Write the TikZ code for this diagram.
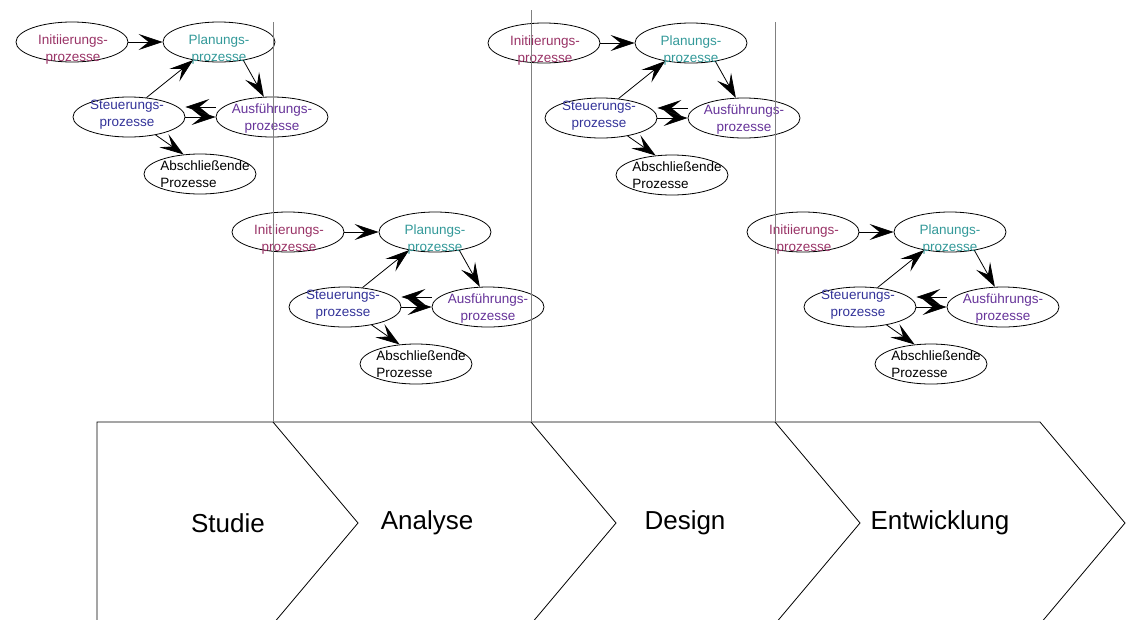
\documentclass[tikz,border=0pt]{standalone}
\usepackage{fontspec}
\setmainfont{Liberation Sans}
\usetikzlibrary{arrows.meta,shapes.geometric}
\definecolor{iniCol}{HTML}{993366}
\definecolor{planCol}{HTML}{339999}
\definecolor{steuCol}{HTML}{333399}
\definecolor{ausfCol}{HTML}{663399}
\definecolor{divCol}{HTML}{808080}
\tikzset{
  proc/.style={ellipse, draw, line width=0.8pt, minimum width=112pt, minimum height=40pt, inner sep=0pt},
  ptext/.style={align=center, font=\fontsize{13.5}{17}\selectfont, inner sep=0pt},
  flow/.style={line width=0.8pt, -{Stealth[length=24pt,width=16pt,inset=10pt]}},
  phase/.style={font=\fontsize{26}{30}\selectfont},
  divider/.style={divCol, line width=1pt}
}
\begin{document}
\begin{tikzpicture}[x=1pt,y=-1pt]
\useasboundingbox (0,0) rectangle (1128,619);
\clip (0,0) rectangle (1128,619);
% phases
\draw[line width=0.8pt] (97,640) -- (97,422) -- (1040,422) -- (1125,523) -- (1040,624);
\foreach \px in {273,531,775}
  \draw[line width=0.8pt] (\px,422) -- (\px+85,523) -- (\px,624);
\node[phase] (studie) at (228,523) {Studie};
\node[phase] (analyse) at (427,523) {Analyse};
\node[phase] (design) at (685,523) {Design};
\node[phase] (entw) at (940,523) {Entwicklung};
% process groups
\foreach \c/\dx/\dy in {a/0/0,b/216/190,c/472/1,d/731/190}{
\begin{scope}[shift={(\dx,\dy)}]
\node[proc] (ini\c) at (72,42){};
\node[proc] (plan\c) at (219,42){};
\node[proc] (steu\c) at (129,117){};
\node[proc] (ausf\c) at (272,117){};
\node[proc] (absch\c) at (200,174){};
\node[ptext, text=iniCol] (tini\c) at (73,50) {Initiierungs-\\prozesse};
\node[ptext, text=planCol] (tplan\c) at (219,50) {Planungs-\\prozesse};
\node[ptext, text=steuCol] (tsteu\c) at (127,115) {Steuerungs-\\prozesse};
\node[ptext, text=ausfCol] (tausf\c) at (272,119) {Ausführungs-\\prozesse};
\node[ptext, align=left] (tabsch\c) at (205,174) {Abschließende\\Prozesse};
\draw[flow] (ini\c) -- (plan\c);
\draw[flow] (steu\c.48) -- (plan\c.215);
\draw[flow] (plan\c.323) -- (ausf\c.112);
\draw[flow] ([yshift=10pt]ausf\c.west) -- ([yshift=10pt]steu\c.east);
\draw[flow] (steu\c) -- (ausf\c);
\draw[flow] (steu\c.326) -- (absch\c.130);
\end{scope}}
% phase borders
\draw[divider] (273,22) -- (273,422);
\draw[divider] (531,10) -- (531,422);
\draw[divider] (775,22) -- (775,422);
\end{tikzpicture}
\end{document}
